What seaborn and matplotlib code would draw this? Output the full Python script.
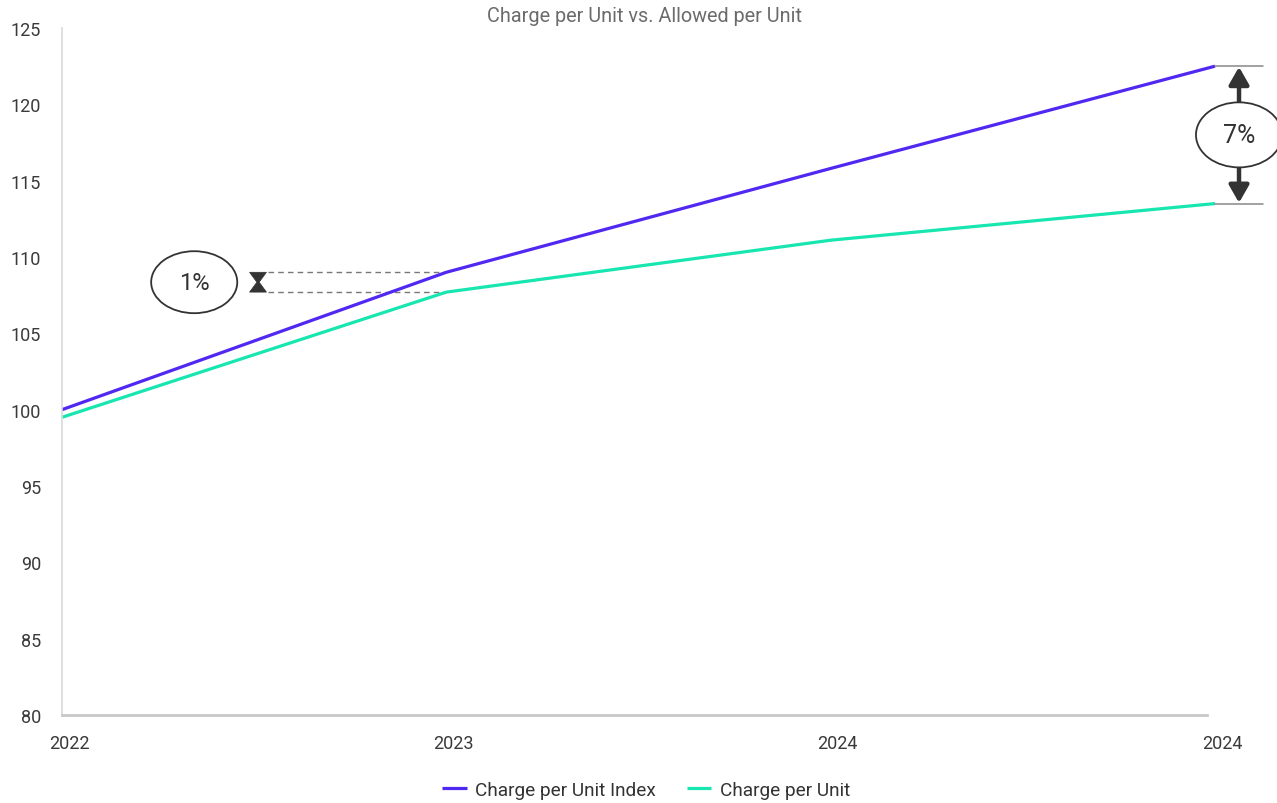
import matplotlib
matplotlib.use("Agg")
import matplotlib.pyplot as plt
import matplotlib.transforms as mtransforms
from matplotlib.patches import Ellipse, Polygon
import numpy as np
import pandas as pd
import seaborn as sns

# Chart data
years = ["2022", "2023", "2024", "2024"]
index_values = [100.0, 109.0, 115.8, 122.5]
unit_values = [99.5, 107.7, 111.1, 113.5]
series_names = ["Charge per Unit Index", "Charge per Unit"]
y_ticks = [80, 85, 90, 95, 100, 105, 110, 115, 120, 125]
gap_labels = ["1%", "7%"]

PURPLE = "#5128F2"
TEAL = "#17E6B0"
DARK = "#333333"

sns.set_theme(style="white")
plt.rcParams["font.family"] = ["Roboto", "DejaVu Sans"]

positions = list(range(len(years)))
df = pd.DataFrame({
    "pos": positions * 2,
    "value": index_values + unit_values,
    "series": [series_names[0]] * len(years) + [series_names[1]] * len(years),
})

fig = plt.figure(figsize=(12.77, 8.04), dpi=100)
ax = fig.add_axes([62 / 1277, 1 - 716 / 804, (1215 - 62) / 1277, (716 - 29) / 804])

sns.lineplot(data=df, x="pos", y="value", hue="series", hue_order=series_names,
             palette=[PURPLE, TEAL], linewidth=2.3, ax=ax)
for ln in ax.lines:
    ln.set_clip_on(False)
    ln.set_solid_capstyle("butt")

ax.set_xlim(0, 3)
ax.set_ylim(80, 125)
ax.set_yticks(y_ticks)
ax.set_xticks(positions)
ax.set_xticklabels(years)
ax.set_xlabel("")
ax.set_ylabel("")

for s in ["top", "right"]:
    ax.spines[s].set_visible(False)
ax.spines["left"].set_color("#d9d9d9")
ax.spines["left"].set_linewidth(1.2)
ax.spines["bottom"].set_color("#c8c8c8")
ax.spines["bottom"].set_linewidth(2)
ax.spines["bottom"].set_bounds(0, 2.98)

ax.tick_params(axis="y", length=8, width=1, color="#cccccc", pad=7,
               labelsize=13, labelcolor="#3a3a3a")
ax.tick_params(axis="x", length=0, pad=14, labelsize=13, labelcolor="#3a3a3a")
shift = mtransforms.ScaledTranslation(7 / 100, 0, fig.dpi_scale_trans)
for lbl in ax.get_xticklabels():
    lbl.set_transform(lbl.get_transform() + shift)

# Legend below the plot
handles, labels = ax.get_legend_handles_labels()
ax.legend(handles, labels, loc="center", bbox_to_anchor=(0.506, 0.016),
          bbox_transform=fig.transFigure, ncol=2, frameon=False, fontsize=13.7,
          handlelength=1.3, handletextpad=0.45, columnspacing=1.6,
          labelcolor="#333333")

fig.text(0.505, 0.980, "Charge per Unit vs. Allowed per Unit", ha="center",
         va="center", fontsize=14.3, color="#6b6b6b")

# Gap marker at 2023: dashed guides and hourglass
y_hi, y_lo = index_values[1], unit_values[1]
y_mid = (y_hi + y_lo) / 2
for yv in (y_hi, y_lo):
    ax.plot([0.536, 1], [yv, yv], color="#777777", lw=1, ls=(0, (4, 3)), zorder=1)
hx, hw, neck = 0.51, 0.022, 0.003
ax.add_patch(Polygon([(hx - hw, y_hi), (hx + hw, y_hi), (hx + neck, y_mid),
                      (hx + hw, y_lo), (hx - hw, y_lo), (hx - neck, y_mid)],
                     closed=True, facecolor=DARK, edgecolor=DARK, lw=0.5,
                     clip_on=False, zorder=4))
ax.add_patch(Ellipse((0.344, y_mid), 0.224, 4.06, facecolor="white",
                     edgecolor=DARK, lw=1.3, clip_on=False, zorder=5))
ax.text(0.344, y_mid, gap_labels[0], ha="center", va="center", fontsize=17,
        color=DARK, zorder=6)

# Gap marker at the last point: guide lines, double arrow and label
e_hi, e_lo = index_values[-1], unit_values[-1]
e_mid = (e_hi + e_lo) / 2
ax_x = 3.0625
for yv in (e_hi, e_lo):
    ax.plot([3.0, 3.125], [yv, yv], color="#888888", lw=1.1, clip_on=False, zorder=3)
ell_h = 4.26
arrow_style = "-|>,head_length=1.05,head_width=0.6"
ax.annotate("", xy=(ax_x, e_hi - 0.05), xytext=(ax_x, e_mid + ell_h / 2),
            arrowprops=dict(arrowstyle=arrow_style, lw=3.2, color=DARK,
                            shrinkA=0, shrinkB=0, mutation_scale=10),
            annotation_clip=False, zorder=4)
ax.annotate("", xy=(ax_x, e_lo + 0.05), xytext=(ax_x, e_mid - ell_h / 2),
            arrowprops=dict(arrowstyle=arrow_style, lw=3.2, color=DARK,
                            shrinkA=0, shrinkB=0, mutation_scale=10),
            annotation_clip=False, zorder=4)
ax.add_patch(Ellipse((ax_x, e_mid), 0.224, ell_h, facecolor="white",
                     edgecolor=DARK, lw=1.3, clip_on=False, zorder=5))
ax.text(ax_x, e_mid, gap_labels[1], ha="center", va="center", fontsize=18,
        color=DARK, zorder=6)

fig.savefig("out.png", dpi=100, facecolor="white")
